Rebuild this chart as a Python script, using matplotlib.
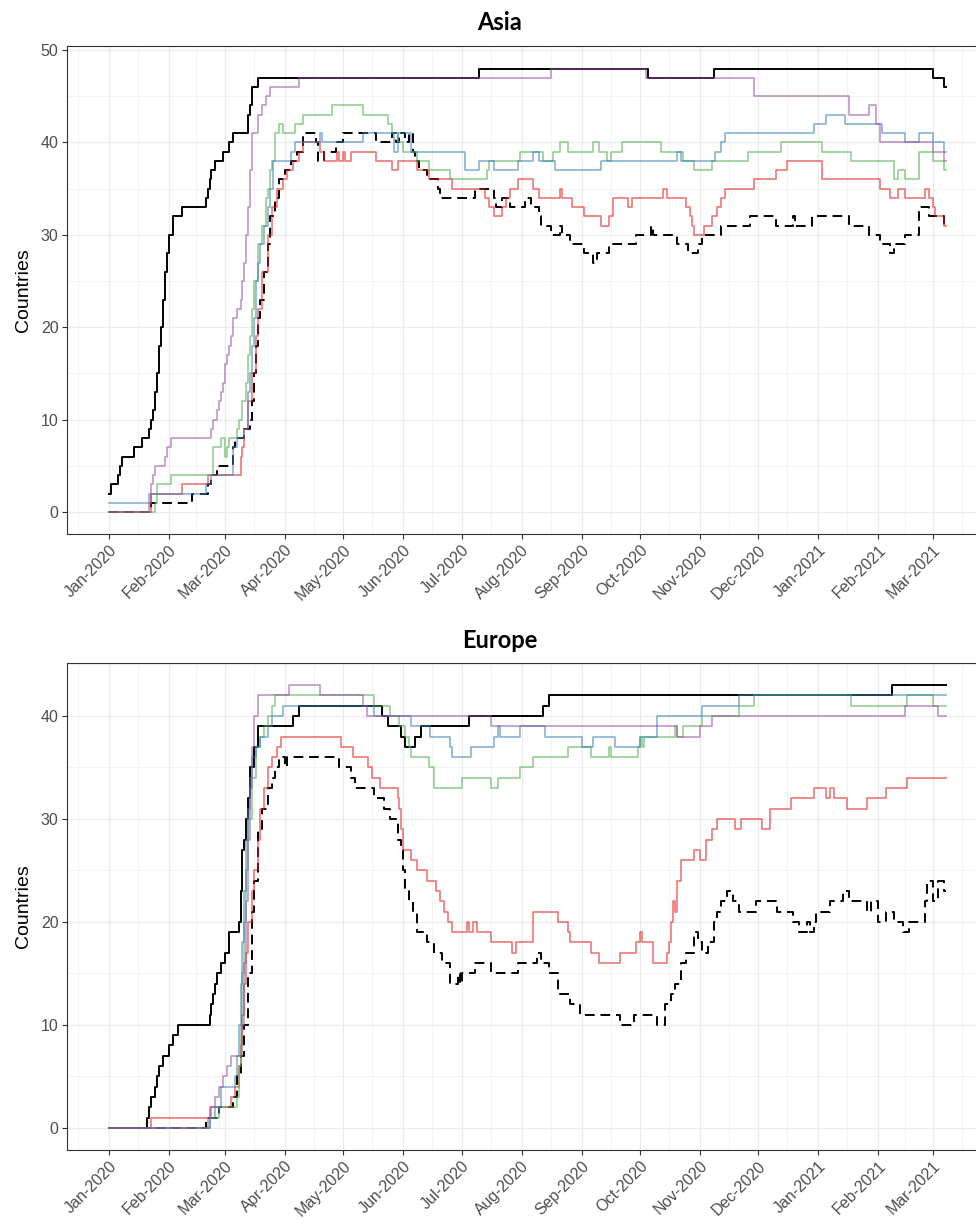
import numpy as np
import matplotlib
matplotlib.use("Agg")
import matplotlib.pyplot as plt
import matplotlib.dates as mdates
from matplotlib.ticker import FixedLocator

plt.rcParams["font.family"] = ["Liberation Sans", "DejaVu Sans"]

# day offsets from 2020-01-01 where a series changes, and the new value
START = np.datetime64("2020-01-01")
END_DAY = 432

# ---- Asia ----
asia_black_days = [0, 1, 5, 6, 7, 13, 17, 21, 22, 23, 24, 25, 26, 27, 28, 29, 30, 31, 33, 38, 50, 51, 52, 53,
                   55, 59, 62, 64, 72, 73, 74, 77, 191, 278, 312, 425, 431]
asia_black_vals = [2, 3, 4, 5, 6, 7, 8, 9, 10, 11, 13, 15, 18, 20, 23, 26, 28, 30, 32, 33, 34, 35, 36, 37,
                   38, 39, 40, 41, 43, 44, 46, 47, 48, 47, 48, 47, 46]

asia_dash_days = [0, 22, 43, 51, 53, 56, 64, 65, 70, 73, 74, 75, 76, 77, 78, 80, 82, 83, 86, 88, 91, 94, 97, 100,
                  107, 108, 111, 117, 121, 138, 146, 148, 150, 153, 155, 157, 158, 160, 164, 170, 171, 189, 199,
                  200, 203, 207, 215, 218, 222, 223, 228, 233, 234, 238, 245, 250, 252, 258, 272, 280, 281, 293,
                  299, 304, 306, 316, 331, 344, 353, 354, 363, 382, 392, 398, 403, 405, 411, 418, 423, 431]
asia_dash_vals = [0, 1, 2, 3, 4, 5, 7, 8, 9, 10, 12, 15, 18, 21, 23, 26, 29, 32, 34, 36, 37, 38, 39, 41,
                  40, 38, 39, 40, 41, 40, 41, 40, 41, 40, 41, 39, 38, 37, 36, 35, 34, 35, 34,
                  33, 34, 33, 34, 33, 32, 31, 30, 31, 30, 29, 28, 27, 28, 29, 30, 31, 30, 29,
                  28, 29, 30, 31, 32, 31, 32, 31, 32, 31, 30, 29, 28, 29, 30, 33, 32, 31]

asia_red_days = [0, 22, 38, 51, 68, 69, 70, 72, 74, 76, 77, 79, 82, 84, 87, 90, 92, 95, 98, 100, 109, 111, 118,
                 119, 121, 122, 125, 138, 146, 149, 159, 165, 177, 194, 196, 199, 203, 205, 207, 211, 219, 222,
                 233, 234, 239, 245, 254, 258, 260, 268, 270, 286, 288, 298, 300, 301, 302, 307, 311, 314, 316,
                 318, 333, 344, 350, 368, 398, 403, 407, 411, 421, 423, 425, 426, 431]
asia_red_vals = [0, 2, 3, 4, 6, 7, 9, 12, 15, 19, 22, 26, 30, 33, 35, 36, 37, 38, 39, 40, 39, 38, 39,
                 38, 39, 38, 39, 38, 37, 38, 37, 36, 35, 34, 33, 32, 33, 34, 35, 36, 35, 34,
                 35, 34, 33, 32, 31, 32, 34, 33, 34, 35, 34, 33, 32, 31, 30, 31, 32, 33, 34,
                 35, 36, 37, 38, 36, 35, 34, 35, 34, 35, 34, 33, 32, 31]

asia_green_days = [0, 24, 25, 32, 54, 58, 60, 61, 62, 66, 67, 69, 71, 72, 73, 74, 75, 77, 79, 81, 82, 83, 84,
                   86, 88, 90, 96, 100, 115, 131, 144, 146, 149, 152, 159, 165, 176, 195, 196, 212, 224, 229,
                   233, 237, 250, 253, 257, 259, 265, 285, 296, 302, 311, 330, 347, 368, 383, 405, 407, 411,
                   418, 425, 431]
asia_green_vals = [0, 1, 3, 4, 7, 8, 6, 7, 8, 9, 10, 12, 14, 17, 19, 22, 25, 29, 31, 34, 35, 37, 38,
                   41, 42, 41, 42, 43, 44, 43, 42, 41, 40, 39, 38, 37, 36, 37, 38, 39, 38, 39,
                   40, 39, 40, 39, 38, 39, 40, 39, 38, 37, 38, 39, 40, 39, 38, 36, 37, 36,
                   39, 38, 37]

asia_blue_days = [0, 21, 50, 53, 64, 66, 70, 72, 73, 74, 75, 76, 77, 78, 80, 82, 83, 85, 94, 96, 109, 110,
                  131, 147, 149, 156, 184, 191, 199, 211, 219, 222, 230, 254, 293, 295, 313, 316, 318, 364,
                  370, 380, 399, 411, 418, 425, 431]
asia_blue_vals = [1, 2, 3, 4, 7, 8, 9, 13, 15, 18, 21, 25, 27, 29, 31, 33, 35, 38, 39, 40, 41, 40,
                  41, 39, 41, 39, 37, 38, 37, 38, 39, 38, 37, 38, 39, 38, 39, 40, 41, 42,
                  43, 42, 41, 40, 41, 40, 39]

asia_purple_days = [0, 21, 22, 23, 24, 29, 30, 32, 53, 54, 56, 57, 58, 59, 60, 61, 62, 63, 64, 66, 68, 69, 70,
                    71, 72, 73, 74, 77, 79, 81, 83, 98, 228, 277, 333, 382, 392, 396, 398, 425, 431]
asia_purple_vals = [0, 1, 3, 4, 5, 6, 7, 8, 9, 10, 11, 12, 13, 14, 16, 17, 18, 19, 21, 22, 23, 25, 27,
                    30, 33, 37, 41, 43, 44, 45, 46, 47, 48, 47, 45, 43, 44, 42, 40, 39, 38]

# ---- Europe ----
eu_black_days = [0, 20, 21, 22, 24, 25, 26, 28, 31, 33, 36, 52, 53, 54, 55, 56, 58, 60, 62, 67, 68, 69, 70,
                 71, 72, 73, 75, 77, 95, 98, 141, 144, 151, 153, 158, 161, 186, 224, 227, 404]
eu_black_vals = [0, 1, 2, 3, 4, 5, 6, 7, 8, 9, 10, 11, 12, 13, 14, 15, 16, 17, 19, 20, 23, 27, 28,
                 30, 32, 35, 37, 39, 40, 41, 40, 39, 38, 37, 38, 39, 40, 41, 42, 43]

eu_dash_days = [0, 50, 57, 64, 66, 68, 70, 72, 74, 75, 77, 79, 82, 84, 86, 88, 91, 92, 119, 125, 127, 137,
                142, 145, 149, 151, 152, 153, 155, 157, 159, 164, 168, 172, 176, 180, 181, 182, 189, 197,
                211, 221, 223, 227, 232, 238, 243, 264, 271, 283, 287, 290, 292, 295, 298, 302, 304, 306,
                309, 312, 314, 316, 319, 322, 325, 334, 345, 353, 356, 360, 362, 364, 365, 372, 379, 382,
                391, 393, 397, 401, 405, 410, 413, 421, 422, 425, 428, 431]
eu_dash_vals = [0, 1, 2, 3, 5, 7, 10, 15, 21, 24, 29, 31, 33, 34, 35, 36, 35, 36, 35, 34, 33, 32,
                31, 30, 28, 27, 25, 23, 22, 21, 19, 18, 17, 16, 14, 15, 14, 15, 16, 15,
                16, 17, 16, 15, 13, 12, 11, 10, 11, 10, 12, 13, 14, 16, 17, 19, 18, 17,
                18, 20, 21, 22, 23, 22, 21, 22, 21, 20, 19, 20, 19, 20, 21, 22, 23, 22,
                21, 22, 20, 21, 20, 19, 20, 22, 24, 22, 24, 23]

eu_red_days = [0, 22, 52, 63, 65, 67, 68, 69, 70, 71, 72, 74, 75, 77, 78, 80, 82, 84, 87, 89, 120, 126, 134,
               136, 140, 149, 150, 151, 152, 156, 159, 164, 169, 171, 173, 175, 177, 185, 186, 188, 190, 197,
               208, 210, 219, 232, 237, 238, 249, 253, 264, 272, 274, 275, 281, 288, 289, 290, 291, 292, 293,
               295, 302, 305, 308, 311, 314, 323, 326, 337, 341, 352, 364, 370, 372, 374, 381, 391, 401, 412]
eu_red_vals = [0, 1, 2, 3, 4, 6, 8, 11, 14, 17, 20, 23, 25, 28, 31, 33, 35, 36, 37, 38, 37, 36, 35,
               34, 33, 32, 31, 29, 27, 26, 25, 24, 23, 22, 21, 20, 19, 20, 19, 20, 19, 18,
               17, 18, 21, 20, 19, 18, 17, 16, 17, 18, 19, 18, 16, 17, 18, 20, 22, 21, 24,
               26, 27, 26, 28, 29, 30, 29, 30, 29, 31, 32, 33, 32, 33, 32, 31, 32, 33, 34]

eu_green_days = [0, 52, 57, 66, 67, 68, 69, 70, 71, 72, 74, 76, 78, 80, 82, 84, 86, 137, 145, 150, 153, 155,
                 156, 165, 168, 182, 197, 201, 212, 219, 237, 249, 258, 259, 273, 274, 275, 276, 292, 293,
                 296, 306, 325, 333, 383, 412, 425]
eu_green_vals = [0, 1, 2, 3, 6, 10, 15, 20, 25, 30, 34, 37, 38, 39, 40, 41, 42, 41, 40, 39, 38, 37,
                 36, 35, 33, 34, 33, 34, 35, 36, 37, 36, 37, 36, 37, 38, 37, 38, 39, 38,
                 39, 40, 41, 42, 41, 42, 41]

eu_blue_days = [0, 52, 55, 58, 65, 66, 67, 68, 69, 70, 71, 72, 73, 74, 76, 78, 82, 84, 90, 137, 156, 166,
                176, 177, 187, 199, 201, 202, 212, 225, 244, 250, 261, 274, 283, 306, 325]
eu_blue_vals = [0, 1, 2, 4, 5, 7, 10, 14, 18, 23, 28, 31, 34, 36, 37, 38, 39, 40, 41, 40, 39, 38,
                37, 36, 37, 38, 39, 38, 39, 38, 37, 38, 37, 38, 40, 41, 42]

eu_purple_days = [0, 51, 53, 55, 57, 59, 61, 63, 69, 70, 71, 72, 73, 74, 75, 77, 93, 109, 131, 133, 197, 293,
                  305, 311, 411, 428]
eu_purple_vals = [0, 1, 2, 3, 4, 5, 6, 7, 10, 16, 22, 28, 33, 37, 40, 42, 43, 42, 41, 40, 39, 38,
                  39, 40, 41, 40]

panels = [
    ("Asia", [0.0686, 0.5621, 0.9416, 0.3999], (-2.4, 50.4), [0, 10, 20, 30, 40, 50],
     [(asia_black_days, asia_black_vals, "solid"), (asia_dash_days, asia_dash_vals, "dash"),
      (asia_red_days, asia_red_vals, "#E41A1C"), (asia_green_days, asia_green_vals, "#4DAF4A"),
      (asia_blue_days, asia_blue_vals, "#377EB8"), (asia_purple_days, asia_purple_vals, "#984EA3")]),
    ("Europe", [0.0686, 0.0574, 0.9416, 0.3992], (-2.15, 45.15), [0, 10, 20, 30, 40],
     [(eu_black_days, eu_black_vals, "solid"), (eu_dash_days, eu_dash_vals, "dash"),
      (eu_red_days, eu_red_vals, "#E41A1C"), (eu_green_days, eu_green_vals, "#4DAF4A"),
      (eu_blue_days, eu_blue_vals, "#377EB8"), (eu_purple_days, eu_purple_vals, "#984EA3")]),
]

title_y = {"Asia": 1 - 22 / 1220, "Europe": 1 - 640 / 1220}

fig = plt.figure(figsize=(9.76, 12.2), dpi=100)

month_starts = np.arange(np.datetime64("2019-12"), np.datetime64("2021-05"), dtype="datetime64[M]")
month_days = month_starts.astype("datetime64[D]")
mids = month_days[:-1] + (month_days[1:] - month_days[:-1]) / 2
minor_nums = mdates.date2num(mids.astype("datetime64[h]"))

for name, rect, ylim, yticks, series in panels:
    ax = fig.add_axes(rect)
    for days, vals, style in series:
        d = list(days) + [END_DAY]
        v = list(vals) + [vals[-1]]
        x = START + np.array(d).astype("timedelta64[D]")
        if style == "solid":
            ax.step(x, v, where="post", color="black", lw=1.4, zorder=3)
        elif style == "dash":
            ax.step(x, v, where="post", color="black", lw=1.4, dashes=(5, 3), zorder=3)
        else:
            ax.step(x, v, where="post", color=style, lw=1.2, alpha=0.6, zorder=4)

    ax.set_xlim(START - np.timedelta64(22, "D") + np.timedelta64(11, "h"),
                START + np.timedelta64(452, "D") + np.timedelta64(13, "h"))
    ax.set_ylim(*ylim)
    ax.xaxis.set_major_locator(mdates.MonthLocator())
    ax.xaxis.set_major_formatter(mdates.DateFormatter("%b-%Y"))
    ax.xaxis.set_minor_locator(FixedLocator(minor_nums))
    ax.set_yticks(yticks)
    ax.yaxis.set_minor_locator(FixedLocator([y + 5 for y in yticks]))

    ax.grid(which="major", color="#EBEBEB", lw=0.9, zorder=0)
    ax.grid(which="minor", color="#EFEFEF", lw=0.5, zorder=0)
    ax.set_axisbelow(True)
    for s in ax.spines.values():
        s.set_color("#333333")
        s.set_linewidth(0.8)
    ax.tick_params(which="major", length=3.5, width=0.8, color="#333333",
                   labelcolor="#4D4D4D", labelsize=11.5, pad=2.5)
    ax.tick_params(which="minor", length=0)
    for lab in ax.get_xticklabels():
        lab.set_rotation(45)
        lab.set_ha("right")
        lab.set_va("top")
        lab.set_rotation_mode("anchor")
    ax.set_ylabel("Countries", fontsize=14, color="black", labelpad=6)

    fig.text(500 / 976, title_y[name], name, ha="center", va="center",
             fontsize=17, fontweight="bold", family="Lato")

fig.savefig("out.png", dpi=100)
